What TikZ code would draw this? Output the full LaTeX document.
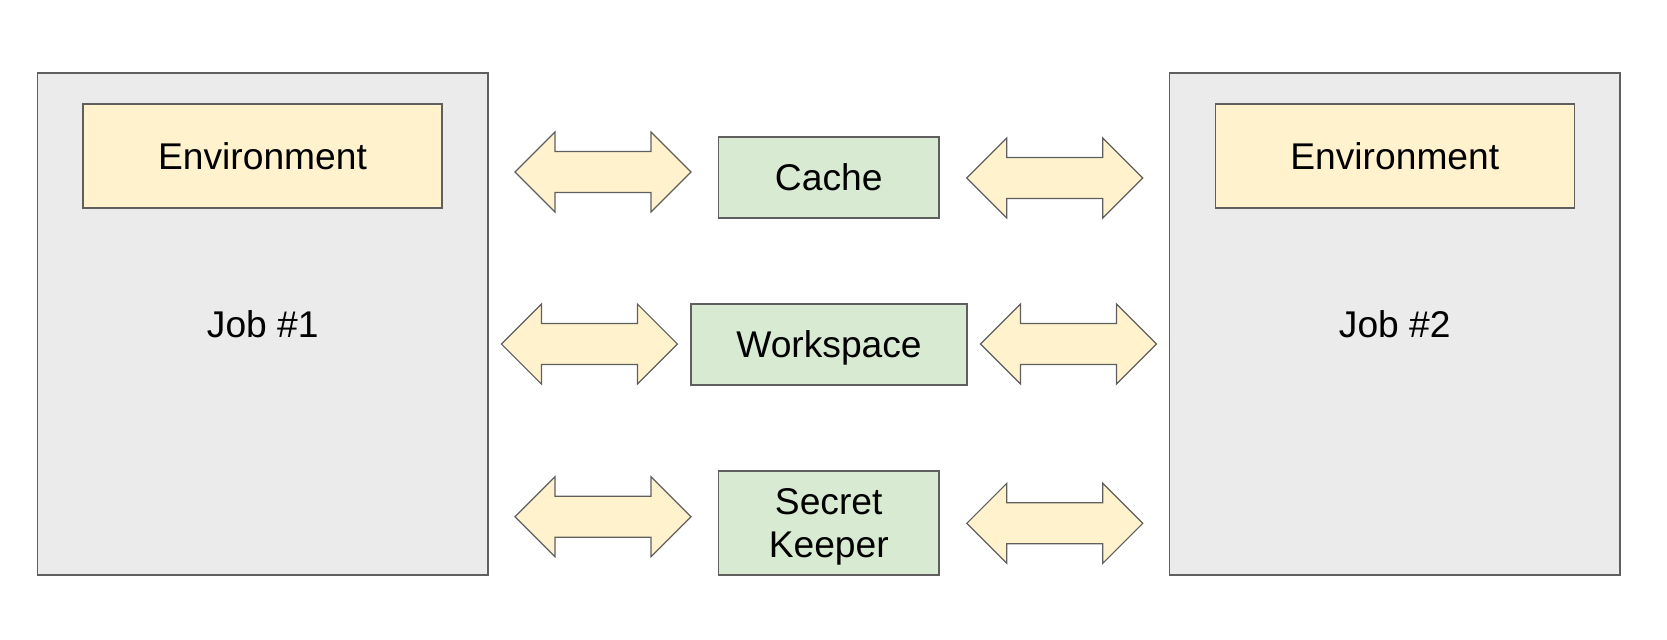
\documentclass[tikz,border=0pt]{standalone}
\usepackage{fontspec}
\setmainfont{Liberation Sans}
\usepackage{tikz}

\definecolor{jobgray}{HTML}{EBEBEB}
\definecolor{envyellow}{HTML}{FFF2CC}
\definecolor{svcgreen}{HTML}{D9EAD3}
\definecolor{linegray}{HTML}{5F5F5F}

\tikzstyle{BoxStyle}=[draw=linegray,line width=0.6pt,rectangle,inner sep=0pt,
  font=\fontsize{18.6}{21.5}\selectfont,align=center,text depth=0pt]
\tikzstyle{JobStyle}=[BoxStyle,fill=jobgray,minimum width=225.25pt,minimum height=251pt]
\tikzstyle{EnvStyle}=[BoxStyle,fill=envyellow,minimum width=179.5pt,minimum height=52pt]
\tikzstyle{SvcStyle}=[BoxStyle,fill=svcgreen,minimum width=110.25pt,minimum height=40.5pt]
\tikzstyle{LinkStyle}=[draw=linegray,line width=0.6pt,fill=envyellow,line join=miter]

\newcommand{\LinkArrow}[3]{%
\coordinate (#1) at (#2,#3);
\draw[LinkStyle,shift={(#1)}] (-88,0) -- (-48,40) -- (-48,20.5) -- (48,20.5)
  -- (48,40) -- (88,0) -- (48,-40) -- (48,-20.5) -- (-48,-20.5) -- (-48,-40) -- cycle;}

\begin{document}
\begin{tikzpicture}[x=0.5pt,y=0.5pt]
\useasboundingbox (0,0) rectangle (1667,-639);

\node[JobStyle] (job1) at (262.75,-324) {Job \#1};
\node[JobStyle] (job2) at (1394.8,-324) {Job \#2};

\node[EnvStyle] (env1) at (262.5,-156) {Environment};
\node[EnvStyle] (env2) at (1394.8,-156) {Environment};

\node[SvcStyle] (cache) at (828.75,-177.5) {Cache};
\node[SvcStyle,minimum width=138pt] (workspace) at (829,-344.5) {Workspace};
\node[SvcStyle,minimum height=52pt] (secret) at (828.75,-523) {Secret\\Keeper};

\LinkArrow{cacheL}{603}{-172}
\LinkArrow{cacheR}{1054.8}{-178}
\LinkArrow{workL}{589.4}{-344}
\LinkArrow{workR}{1068.5}{-344}
\LinkArrow{secretL}{603}{-516.7}
\LinkArrow{secretR}{1054.8}{-523.3}

\end{tikzpicture}
\end{document}
